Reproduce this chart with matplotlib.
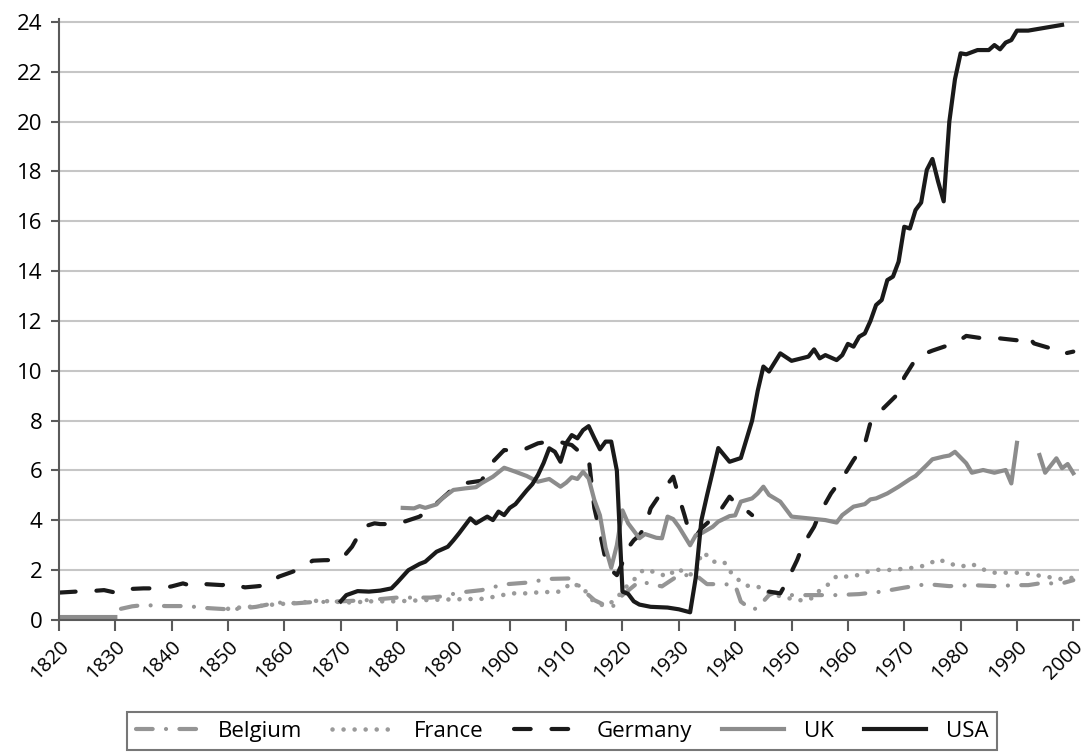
import numpy as np
import matplotlib
matplotlib.use("Agg")
import matplotlib.pyplot as plt

nan = np.nan

belgium_years = [1831, 1833, 1835, 1837, 1839, 1843, 1845, 1847, 1850, 1852, 1855, 1857, 1859,
                 1862, 1865, 1868, 1870, 1875, 1880, 1883, 1886, 1888, 1891, 1895, 1899, 1903,
                 1907, 1911, 1913, 1915, 1918, 1920, 1923, 1927, 1930, 1933, 1935, 1938, 1940,
                 1941, 1943, 1944, 1946, 1947, 1950, 1955, 1958, 1962, 1966, 1970, 1974, 1978,
                 1982, 1986, 1990, 1992, 1994, 1998, 2000]
belgium_vals = [0.45, 0.55, 0.6, 0.58, 0.56, 0.56, 0.5, 0.47, 0.43, 0.45, 0.53, 0.62, 0.7,
                0.67, 0.72, 0.73, 0.75, 0.8, 0.9, 0.9, 0.9, 0.95, 1.1, 1.2, 1.43, 1.5,
                1.65, 1.67, 1.2, 0.8, 0.47, 1.0, 1.55, 1.35, 1.8, 1.8, 1.44, 1.44, 1.4,
                0.74, 0.4, 0.5, 1.0, 1.1, 1.0, 1.0, 1.0, 1.04, 1.14, 1.3, 1.44, 1.36,
                1.4, 1.36, 1.4, 1.4, 1.47, 1.47, 1.6]

france_years = [1850, 1852, 1855, 1858, 1861, 1863, 1866, 1870, 1872, 1875, 1878, 1880, 1885,
                1890, 1895, 1898, 1900, 1903, 1905, 1909, 1911, 1913, 1914, 1915, 1917, 1919,
                1920, 1922, 1923, 1924, 1926, 1928, 1929, 1930, 1931, 1933, 1934, 1935, 1936,
                1938, 1939, 1940, 1942, 1944, 1946, 1948, 1950, 1952, 1954, 1955, 1957, 1958,
                1960, 1962, 1964, 1966, 1968, 1970, 1972, 1974, 1976, 1978, 1980, 1982, 1984,
                1986, 1988, 1990, 1992, 1994, 1996, 1998, 2000]
france_vals = [0.45, 0.5, 0.55, 0.62, 0.67, 0.7, 0.78, 0.72, 0.7, 0.75, 0.75, 0.75, 0.8,
               0.83, 0.85, 0.96, 1.07, 1.07, 1.11, 1.14, 1.5, 1.27, 1.0, 0.7, 0.56, 0.85,
               1.2, 1.6, 1.9, 2.03, 1.9, 1.74, 1.94, 2.07, 1.85, 1.82, 2.7, 2.6, 2.34,
               2.34, 1.98, 1.71, 1.38, 1.34, 1.1, 0.95, 0.85, 0.78, 0.9, 1.2, 1.5, 1.77,
               1.74, 1.81, 1.98, 2.03, 2.0, 2.07, 2.1, 2.21, 2.44, 2.27, 2.14, 2.25, 2.03,
               1.9, 1.9, 1.9, 1.85, 1.78, 1.71, 1.64, 1.7]

germany_years = [1820, 1823, 1825, 1828, 1830, 1831, 1835, 1838, 1840, 1842, 1844, 1846, 1849,
                 1850, 1853, 1855, 1857, 1859, 1861, 1863, 1865, 1867, 1870, 1872, 1874, 1876,
                 1877, 1880, 1882, 1884, 1886, 1887, 1889, 1890, 1892, 1895, 1896, 1897, 1899,
                 1902, 1905, 1908, 1911, 1912, 1914, 1915, 1916, 1917, 1918, 1919, 1920, 1921,
                 1922, 1923, 1924, 1925, 1927, 1929, 1930, 1931, 1932, 1933, 1934, 1937, 1939,
                 1940, 1942, 1943, 1944, 1946, 1948, 1949, 1951, 1952, 1954, 1955, 1957, 1959,
                 1961, 1963, 1964, 1965, 1966, 1969, 1970, 1972, 1973, 1975, 1978, 1979, 1981,
                 1984, 1987, 1991, 1992, 1993, 1996, 1997, 1998, 2000]
germany_vals = [1.1, 1.14, 1.15, 1.2, 1.1, 1.23, 1.27, 1.27, 1.35, 1.47, 1.34, 1.44, 1.4,
                1.47, 1.31, 1.35, 1.4, 1.74, 1.9, 2.07, 2.38, 2.4, 2.41, 2.94, 3.74, 3.88,
                3.85, 3.85, 4.0, 4.15, 4.5, 4.68, 5.08, 5.3, 5.49, 5.59, 6.0, 6.35, 6.82,
                6.79, 7.09, 7.2, 7.02, 6.82, 6.5, 4.5, 3.5, 2.41, 2.0, 1.8, 2.3, 2.9,
                3.2, 3.4, 3.74, 4.48, 5.15, 5.75, 4.95, 4.21, 3.41, 3.34, 3.68, 4.28, 4.95,
                4.7, 4.4, 4.21, nan, 1.14, 1.07, 1.47, 2.41, 3.0, 3.74, 4.28, 5.08, 5.69,
                6.42, 7.06, 7.92, 8.16, 8.43, 9.1, 9.74, 10.46, 10.63, 10.81, 11.04, 11.1, 11.4,
                11.3, 11.3, 11.2, 11.4, 11.1, 10.9, 10.83, 10.67, 10.77]

uk_years = [1820, 1825, 1830, 1831, 1881, 1883, 1884, 1885, 1887, 1888, 1890, 1892, 1894,
            1895, 1897, 1899, 1901, 1903, 1905, 1907, 1909, 1910, 1911, 1912, 1913, 1914,
            1915, 1916, 1917, 1918, 1919, 1920, 1921, 1923, 1924, 1926, 1927, 1928, 1929,
            1930, 1932, 1933, 1934, 1936, 1937, 1939, 1940, 1941, 1943, 1944, 1945, 1946,
            1948, 1950, 1953, 1956, 1958, 1959, 1961, 1963, 1964, 1965, 1967, 1969, 1971,
            1972, 1974, 1975, 1977, 1978, 1979, 1981, 1982, 1984, 1986, 1988, 1989, 1990,
            1991, 1994, 1995, 1996, 1997, 1998, 1999, 2000]
uk_vals = [0.12, 0.12, 0.12, nan, 4.5, 4.48, 4.57, 4.5, 4.64, 4.88, 5.22, 5.28, 5.33,
           5.49, 5.75, 6.11, 5.95, 5.78, 5.55, 5.66, 5.35, 5.51, 5.73, 5.66, 5.95, 5.68,
           4.82, 4.2, 2.9, 2.1, 3.0, 4.4, 3.88, 3.28, 3.45, 3.3, 3.28, 4.15, 4.05,
           3.74, 3.0, 3.4, 3.48, 3.74, 3.95, 4.17, 4.2, 4.75, 4.88, 5.08, 5.35, 5.02,
           4.75, 4.15, 4.08, 4.01, 3.91, 4.21, 4.55, 4.65, 4.84, 4.88, 5.08, 5.35, 5.65,
           5.78, 6.22, 6.45, 6.56, 6.6, 6.75, 6.29, 5.91, 6.02, 5.91, 6.02, 5.48, 7.11,
           nan, 6.62, 5.91, 6.2, 6.49, 6.09, 6.26, 5.89]

usa_years = [1870, 1871, 1873, 1875, 1877, 1879, 1880, 1881, 1882, 1884, 1885, 1887, 1889,
             1890, 1891, 1893, 1894, 1896, 1897, 1898, 1899, 1900, 1901, 1903, 1904, 1905,
             1906, 1907, 1908, 1909, 1910, 1911, 1912, 1913, 1914, 1915, 1916, 1917, 1918,
             1919, 1920, 1921, 1922, 1923, 1925, 1928, 1930, 1932, 1933, 1934, 1935, 1937,
             1939, 1941, 1943, 1944, 1945, 1946, 1948, 1950, 1953, 1954, 1955, 1956, 1958,
             1959, 1960, 1961, 1962, 1963, 1964, 1965, 1966, 1967, 1968, 1969, 1970, 1971,
             1972, 1973, 1974, 1975, 1976, 1977, 1978, 1979, 1980, 1981, 1983, 1985, 1986,
             1987, 1988, 1989, 1990, 1992, 1998]
usa_vals = [0.75, 1.0, 1.16, 1.14, 1.18, 1.27, 1.5, 1.75, 2.0, 2.25, 2.34, 2.74, 2.94,
            3.2, 3.48, 4.08, 3.88, 4.15, 4.01, 4.35, 4.21, 4.5, 4.65, 5.2, 5.45, 5.82,
            6.3, 6.89, 6.75, 6.35, 7.09, 7.42, 7.29, 7.62, 7.78, 7.3, 6.85, 7.16, 7.16,
            6.0, 1.14, 1.05, 0.75, 0.62, 0.53, 0.5, 0.43, 0.31, 1.7, 4.0, 5.0, 6.9,
            6.35, 6.5, 8.0, 9.2, 10.17, 9.97, 10.7, 10.4, 10.57, 10.86, 10.5, 10.63, 10.43,
            10.63, 11.08, 10.97, 11.37, 11.5, 12.0, 12.64, 12.84, 13.64, 13.78, 14.38, 15.78, 15.71,
            16.45, 16.75, 18.06, 18.5, 17.6, 16.8, 20.0, 21.7, 22.74, 22.7, 22.87, 22.87, 23.07,
            22.9, 23.17, 23.27, 23.65, 23.65, 23.88]

plt.rcParams['font.family'] = ['Open Sans', 'DejaVu Sans']

fig = plt.figure(figsize=(10.86, 7.52), dpi=100)
ax = fig.add_axes([0.0543, 0.1755, 0.9392, 0.7987])

grey = '#959595'
black = '#1a1a1a'

ax.plot(belgium_years, belgium_vals, color=grey, lw=3, label='Belgium',
        linestyle=(0, (4.0, 3.2, 0.01, 3.2)), dash_capstyle='round')
ax.plot(france_years, france_vals, color='#9a9a9a', lw=3.3, label='France',
        linestyle=(0, (0.01, 2.4)), dash_capstyle='round')
ax.plot(germany_years, germany_vals, color=black, lw=3, label='Germany',
        linestyle=(0, (4, 5)), dash_capstyle='round')
ax.plot(uk_years, uk_vals, color='#8c8c8c', lw=3, label='UK', solid_joinstyle='round')
ax.plot(usa_years, usa_vals, color=black, lw=3, label='USA', solid_joinstyle='round')

ax.set_xlim(1820, 2001)
ax.set_ylim(0, 24.1)
ax.set_xticks(range(1820, 2001, 10))
ax.set_yticks(range(0, 25, 2))
ax.yaxis.grid(True, color='#c6c6c6', lw=1.5)
ax.set_axisbelow(True)

for s in ['top', 'right']:
    ax.spines[s].set_visible(False)
for s in ['left', 'bottom']:
    ax.spines[s].set_color('#5a5a5a')
    ax.spines[s].set_linewidth(1.5)

ax.tick_params(axis='y', length=6, width=1.5, color='#5a5a5a', labelsize=16, pad=6)
ax.tick_params(axis='x', length=8, width=1.5, color='#5a5a5a', labelsize=14.5, pad=4)
plt.setp(ax.get_xticklabels(), rotation=45, ha='right', va='top', rotation_mode='anchor')

leg = fig.legend(loc='lower center', bbox_to_anchor=(0.5175, 0.002), ncol=5,
                 fancybox=False, edgecolor='#555555', fontsize=16, handlelength=2.8,
                 handletextpad=0.9, columnspacing=1.35, borderpad=0.4, borderaxespad=0)
leg.get_frame().set_linewidth(1.5)

fig.savefig('out.png', dpi=100)
